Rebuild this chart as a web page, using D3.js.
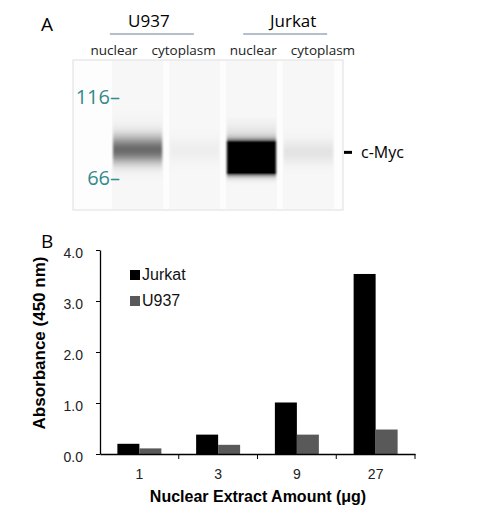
<!DOCTYPE html>
<html>
<head>
<meta charset="utf-8">
<script src="https://cdn.jsdelivr.net/npm/d3@7"></script>
<style>
  body { margin: 0; background: #fff; }
</style>
</head>
<body>
<script>
'use strict'
// panel A: capillary western lanes
const cellLines = ["U937", "Jurkat"];
const fractions = ["nuclear", "cytoplasm", "nuclear", "cytoplasm"];
const markerKDa = [116, 66];
const bandKDa = [80, 80, 76, 79];           // apparent size of c-Myc band per lane
const bandSignal = [0.56, 0.035, 12, 0.08]; // peak signal, >1 is saturated

// panel B: ELISA
const amounts = ["1", "3", "9", "27"];
const series = ["Jurkat", "U937"];
const jurkat = [0.20, 0.38, 1.01, 3.53];
const u937 = [0.11, 0.18, 0.38, 0.48];
const yTicks = [0, 1, 2, 3, 4];

const W = 482, H = 524;
const svg = d3.select("body").append("svg")
    .attr("width", W)
    .attr("height", H);
svg.append("rect").attr("width", W).attr("height", H).attr("fill", "#fff");

// ---------- A ----------
const gelFont = "'Open Sans', 'DejaVu Sans', sans-serif";
const gel = { x: 73, y: 60, w: 270, h: 150 };

svg.append("text")
    .attr("x", 41).attr("y", 31)
    .attr("font-family", gelFont).attr("font-size", 19)
    .text("A");

const lane = d3.scaleBand()
    .domain(d3.range(fractions.length))
    .range([112, 334])
    .paddingInner(0.1);
const labelX = d3.scalePoint()
    .domain(d3.range(fractions.length))
    .range([114, 323]);
const mw = d3.scaleLog().domain([66, 116]).range([178, 97]);

// cell line headers with rule
cellLines.forEach((c, i) => {
    const cx = (labelX(2 * i) + labelX(2 * i + 1)) / 2;
    svg.append("text")
        .attr("x", cx + (i ? 5 : 0)).attr("y", 27)
        .attr("text-anchor", "middle")
        .attr("font-family", gelFont).attr("font-size", 17)
        .text(c);
    svg.append("line")
        .attr("x1", cx - 42 + (i ? -3 : 3)).attr("x2", cx + 42 + (i ? -3 : 3))
        .attr("y1", 34).attr("y2", 34)
        .attr("stroke", "#9ba9bd").attr("stroke-width", 1.3);
});

svg.selectAll("text.frac")
    .data(fractions)
    .enter()
    .append("text")
    .attr("class", "frac")
    .attr("x", (d, i) => labelX(i))
    .attr("y", 55)
    .attr("text-anchor", "middle")
    .attr("font-family", gelFont)
    .attr("font-size", 13.5)
    .attr("fill", "#222")
    .text(d => d);

svg.append("rect")
    .attr("x", gel.x).attr("y", gel.y)
    .attr("width", gel.w).attr("height", gel.h)
    .attr("fill", "#fdfdfd")
    .attr("stroke", "#dedede");

svg.selectAll("rect.lane")
    .data(fractions)
    .enter()
    .append("rect")
    .attr("class", "lane")
    .attr("x", (d, i) => lane(i))
    .attr("y", gel.y + 1)
    .attr("width", lane.bandwidth())
    .attr("height", gel.h - 2)
    .attr("fill", "#f7f7f7");

// band profile: gaussian, sharper when saturated, with a faint smear upward
const defs = svg.append("defs");
defs.append("filter").attr("id", "soft")
    .attr("x", "-10%").attr("width", "120%")
    .append("feGaussianBlur").attr("stdDeviation", "1 0.3");

const span = [-40, 32];
bandSignal.forEach((amp, i) => {
    const c = mw(bandKDa[i]);
    const sUp = amp > 1 ? 6.6 : (i % 2 ? 8 : 10);
    const sDn = amp > 1 ? 6.8 : (i % 2 ? 8 : 9);
    const g = defs.append("linearGradient")
        .attr("id", "band" + i)
        .attr("gradientUnits", "userSpaceOnUse")
        .attr("x1", 0).attr("x2", 0)
        .attr("y1", c + span[0]).attr("y2", c + span[1]);
    d3.range(span[0], span[1] + 1, 1).forEach(d => {
        const s = d < 0 ? sUp : sDn;
        let v = amp * Math.exp(-0.5 * (d / s) ** 2);
        if (d < 0) v += amp * 0.03 * Math.exp(-0.5 * (d / (2.3 * s)) ** 2);
        g.append("stop")
            .attr("offset", (d - span[0]) / (span[1] - span[0]))
            .attr("stop-color", "#000")
            .attr("stop-opacity", Math.min(1, v));
    });
});

svg.selectAll("rect.band")
    .data(bandSignal)
    .enter()
    .append("rect")
    .attr("class", "band")
    .attr("x", (d, i) => lane(i) + 1)
    .attr("y", (d, i) => mw(bandKDa[i]) + span[0])
    .attr("width", lane.bandwidth() - 2)
    .attr("height", span[1] - span[0])
    .attr("fill", (d, i) => "url(#band" + i + ")")
    .attr("filter", "url(#soft)");

svg.selectAll("text.mw")
    .data(markerKDa)
    .enter()
    .append("text")
    .attr("class", "mw")
    .attr("x", 120)
    .attr("y", d => mw(d))
    .attr("dy", "0.36em")
    .attr("text-anchor", "end")
    .attr("font-family", gelFont)
    .attr("font-size", 20)
    .attr("fill", "#348a8c")
    .text(d => d + "\u2013");

const myc = mw(bandKDa[0]) + 2;
svg.append("line")
    .attr("x1", 344).attr("x2", 352)
    .attr("y1", myc).attr("y2", myc)
    .attr("stroke", "#000").attr("stroke-width", 3);
svg.append("text")
    .attr("x", 361).attr("y", myc)
    .attr("dy", "0.36em")
    .attr("font-family", gelFont).attr("font-size", 16)
    .text("c-Myc");

// ---------- B ----------
const font = "'Liberation Sans', Arial, sans-serif";
const plotLeft = 100, plotRight = 415, plotTop = 250, plotBottom = 454;

svg.append("text")
    .attr("x", 41).attr("y", 248)
    .attr("font-family", gelFont).attr("font-size", 19)
    .text("B");

const y = d3.scaleLinear().domain([0, 4]).range([plotBottom, plotTop]);
const x0 = d3.scaleBand().domain(amounts).range([plotLeft, plotRight]);
const x1 = d3.scaleBand().domain(series)
    .range([0, x0.bandwidth()])
    .paddingInner(0)
    .paddingOuter(0.79);
const color = d3.scaleOrdinal().domain(series).range(["#000", "#595959"]);

const rows = amounts.map((a, i) => ({ amount: a, values: [jurkat[i], u937[i]] }));

svg.append("g")
    .selectAll("g")
    .data(rows)
    .enter()
    .append("g")
    .attr("transform", d => "translate(" + x0(d.amount) + ",0)")
    .selectAll("rect")
    .data(d => d.values.map((v, k) => ({ key: series[k], value: v })))
    .enter()
    .append("rect")
    .attr("x", d => x1(d.key))
    .attr("y", d => y(d.value))
    .attr("width", x1.bandwidth())
    .attr("height", d => y(0) - y(d.value))
    .attr("fill", d => color(d.key));

const yAxis = svg.append("g")
    .attr("transform", "translate(" + plotLeft + ",0)")
    .call(d3.axisLeft(y).tickValues(yTicks).tickFormat(d3.format(".1f"))
        .tickSize(4).tickSizeOuter(0).tickPadding(13));
yAxis.selectAll("text")
    .attr("font-family", font).attr("font-size", 14)
    .attr("fill", "#222").attr("dy", "0.5em");

const xAxis = svg.append("g")
    .attr("transform", "translate(0," + plotBottom + ")")
    .call(d3.axisBottom(x0).tickSize(0).tickSizeOuter(0).tickPadding(15));
xAxis.selectAll("text")
    .attr("font-family", font).attr("font-size", 14)
    .attr("fill", "#222");
xAxis.selectAll(".tick line").remove();
xAxis.selectAll("line.sep")
    .data(amounts.slice(1).map(a => x0(a)).concat([plotRight]))
    .enter()
    .append("line")
    .attr("class", "sep")
    .attr("x1", d => d).attr("x2", d => d)
    .attr("y1", 0).attr("y2", 5)
    .attr("stroke", "#000");
svg.selectAll(".domain").attr("stroke-width", 1.3);

// legend
const legend = svg.append("g")
    .selectAll("g")
    .data(series)
    .enter()
    .append("g")
    .attr("transform", (d, i) => "translate(130," + (270 + i * 26) + ")");
legend.append("rect")
    .attr("width", 10).attr("height", 10)
    .attr("fill", d => color(d));
legend.append("text")
    .attr("x", 12).attr("y", 10)
    .attr("font-family", font).attr("font-size", 16)
    .attr("fill", "#111")
    .text(d => d);

svg.append("text")
    .attr("transform", "translate(45,343) rotate(-90)")
    .attr("text-anchor", "middle")
    .attr("font-family", font).attr("font-size", 17).attr("font-weight", "bold")
    .text("Absorbance (450 nm)");
svg.append("text")
    .attr("x", 258).attr("y", 502)
    .attr("text-anchor", "middle")
    .attr("font-family", font).attr("font-size", 16).attr("font-weight", "bold")
    .text("Nuclear Extract Amount (\u03bcg)");
</script>
</body>
</html>
